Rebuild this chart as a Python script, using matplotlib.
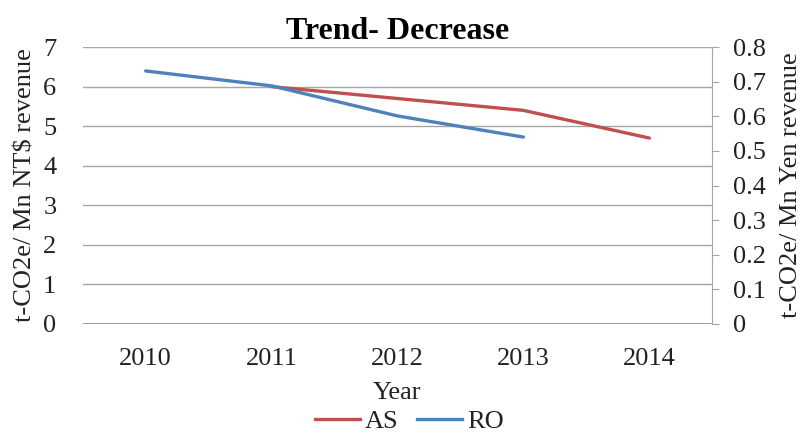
import matplotlib.pyplot as plt
from matplotlib.lines import Line2D

years = ['2010', '2011', '2012', '2013', '2014']
as_years = ['2011', '2012', '2013', '2014']
as_vals = [6.0, 5.7, 5.4, 4.7]          # t-CO2e / Mn NT$ revenue
ro_years = ['2010', '2011', '2012', '2013']
ro_vals = [0.731, 0.688, 0.601, 0.540]  # t-CO2e / Mn Yen revenue

red = '#C0504D'
blue = '#4F81BD'
grid = '#A6A6A6'
txt = '#222222'
fs = 19

plt.rcParams['font.family'] = ['Liberation Serif', 'DejaVu Serif']

fig = plt.figure(figsize=(8.03, 4.36), dpi=100)
ax = fig.add_axes([0.103, 0.257, 0.784, 0.635])
ax2 = ax.twinx()

pos = {y: i for i, y in enumerate(years)}
ax.plot([pos[y] for y in as_years], as_vals, color=red, lw=2.4,
        solid_capstyle='round', zorder=3)
ax2.plot([pos[y] for y in ro_years], ro_vals, color=blue, lw=2.4,
         solid_capstyle='round', zorder=3)

ax.set_xlim(-0.5, 4.5)
ax.set_ylim(0, 7)
ax2.set_ylim(0, 0.8)
ax.set_xticks(range(len(years)))
ax.set_xticklabels(years)
ax.set_yticks(range(8))
ax2.set_yticks([i / 10 for i in range(9)])
ax2.set_yticklabels(['0'] + ['%.1f' % (i / 10) for i in range(1, 9)])

ax.yaxis.grid(True, color=grid, lw=1)
ax.set_axisbelow(True)
for s in ['top', 'left', 'right', 'bottom']:
    ax.spines[s].set_visible(False)
for s in ['top', 'left', 'bottom']:
    ax2.spines[s].set_visible(False)
ax2.spines['right'].set_color(grid)
ax.axhline(0, color='#8C8C8C', lw=1.2)

ax.tick_params(axis='both', length=0, labelsize=fs, labelcolor=txt)
ax.tick_params(axis='y', pad=19)
ax.tick_params(axis='x', pad=17)
ax2.tick_params(axis='y', length=5, color=grid, labelsize=fs, pad=10,
                labelcolor=txt)

ax.set_ylabel('t-CO2e/ Mn NT$ revenue', fontsize=fs, labelpad=5, color=txt)
ax2.set_ylabel('t-CO2e/ Mn Yen revenue', fontsize=fs, labelpad=10, color=txt)
ax.set_xlabel('Year', fontsize=fs, labelpad=9, color=txt)
ax.set_title('Trend- Decrease', fontsize=23, fontweight='bold', pad=6)

handles = [Line2D([], [], color=red, lw=2.4), Line2D([], [], color=blue, lw=2.4)]
fig.legend(handles, ['AS', 'RO'], loc='center', bbox_to_anchor=(0.51, 0.034),
           ncol=2, frameon=False, fontsize=fs, handlelength=1.7,
           handletextpad=0.2, columnspacing=0.7, labelcolor=txt,
           borderpad=0.1)

fig.savefig('out.png', dpi=100)
